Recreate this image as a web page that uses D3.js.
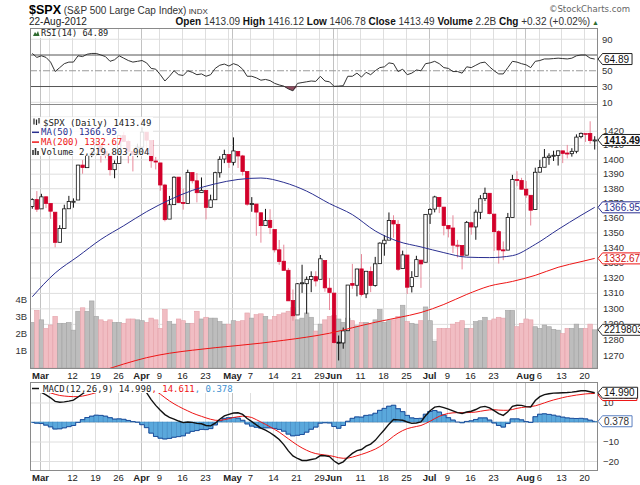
<!DOCTYPE html>
<html>
<head>
<meta charset="utf-8">
<script src="https://cdn.jsdelivr.net/npm/d3@7"></script>
<style>
  body { margin: 0; background: #fff; }
  svg { display: block; }
</style>
</head>
<body>
<script>
// trading days, Feb 28 - Aug 22 2012
var dates = ["02-28","02-29","03-01","03-02","03-05","03-06","03-07","03-08","03-09","03-12",
  "03-13","03-14","03-15","03-16","03-19","03-20","03-21","03-22","03-23","03-26",
  "03-27","03-28","03-29","03-30","04-02","04-03","04-04","04-05","04-09","04-10",
  "04-11","04-12","04-13","04-16","04-17","04-18","04-19","04-20","04-23","04-24",
  "04-25","04-26","04-27","04-30","05-01","05-02","05-03","05-04","05-07","05-08",
  "05-09","05-10","05-11","05-14","05-15","05-16","05-17","05-18","05-21","05-22",
  "05-23","05-24","05-25","05-29","05-30","05-31","06-01","06-04","06-05","06-06",
  "06-07","06-08","06-11","06-12","06-13","06-14","06-15","06-18","06-19","06-20",
  "06-21","06-22","06-25","06-26","06-27","06-28","06-29","07-02","07-03","07-05",
  "07-06","07-09","07-10","07-11","07-12","07-13","07-16","07-17","07-18","07-19",
  "07-20","07-23","07-24","07-25","07-26","07-27","07-30","07-31","08-01","08-02",
  "08-03","08-06","08-07","08-08","08-09","08-10","08-13","08-14","08-15","08-16",
  "08-17","08-20","08-21","08-22"];

var open = [1367.56,1372.20,1365.90,1374.09,1369.59,1363.63,1343.39,1352.65,1365.97,1370.78,
  1371.92,1395.95,1394.17,1402.55,1404.17,1409.59,1405.52,1402.89,1392.78,1397.11,
  1416.55,1412.52,1405.39,1403.31,1408.47,1418.98,1413.09,1398.79,1397.45,1382.18,
  1358.98,1368.77,1387.61,1370.27,1369.57,1390.78,1385.08,1376.96,1378.53,1366.97,
  1372.11,1390.64,1400.19,1403.26,1397.86,1405.50,1402.32,1391.51,1368.79,1369.16,
  1363.20,1354.58,1358.11,1351.93,1338.36,1330.78,1324.82,1305.05,1295.73,1316.09,
  1316.02,1318.72,1320.64,1318.90,1331.25,1313.09,1309.87,1278.29,1277.82,1285.61,
  1316.15,1314.99,1325.72,1309.40,1324.02,1314.88,1329.19,1342.42,1344.83,1358.04,
  1355.43,1325.92,1334.90,1314.09,1320.71,1331.52,1330.12,1362.33,1365.75,1373.72,
  1367.09,1354.66,1352.96,1341.40,1341.29,1334.81,1356.50,1353.68,1363.58,1373.01,
  1376.51,1362.34,1350.52,1338.35,1338.17,1360.05,1385.94,1385.27,1379.32,1375.13,
  1365.45,1391.04,1394.46,1401.23,1402.26,1402.58,1405.87,1404.36,1403.89,1405.57,
  1415.84,1417.85,1418.13,1413.09];

var high = [1373.09,1378.04,1376.17,1374.53,1369.59,1363.63,1354.85,1368.72,1374.76,1373.04,
  1396.13,1399.42,1402.63,1405.88,1414.00,1409.59,1407.75,1402.89,1399.18,1416.58,
  1419.15,1413.65,1405.39,1410.89,1422.38,1419.00,1413.09,1401.60,1397.45,1383.01,
  1374.71,1388.13,1387.61,1379.66,1392.76,1390.78,1390.46,1387.40,1378.53,1375.57,
  1391.37,1402.09,1406.64,1403.26,1415.32,1405.50,1403.07,1391.51,1373.91,1369.16,
  1363.73,1365.88,1365.66,1351.93,1344.94,1341.78,1326.36,1312.24,1316.39,1328.49,
  1320.71,1324.14,1324.20,1334.93,1331.25,1319.74,1309.87,1282.55,1287.62,1315.13,
  1329.05,1325.81,1335.52,1324.31,1327.28,1333.68,1343.32,1348.22,1363.46,1361.57,
  1358.27,1337.82,1334.90,1324.24,1334.40,1331.52,1362.17,1366.35,1374.81,1373.85,
  1367.09,1354.87,1361.54,1345.00,1341.29,1357.70,1357.26,1365.36,1375.26,1380.39,
  1376.51,1362.34,1351.53,1343.98,1363.13,1389.19,1391.74,1387.16,1385.03,1375.13,
  1394.16,1399.63,1407.14,1404.14,1405.95,1405.98,1405.87,1410.03,1407.73,1417.44,
  1418.71,1418.13,1426.68,1416.12];

var low = [1365.97,1363.81,1365.90,1366.42,1359.13,1340.03,1343.39,1352.65,1365.97,1366.69,
  1371.92,1389.97,1394.17,1401.47,1402.43,1397.68,1400.64,1388.73,1386.87,1397.11,
  1411.95,1397.20,1391.56,1401.42,1404.46,1404.62,1394.09,1392.92,1378.24,1357.38,
  1358.98,1368.77,1369.85,1365.38,1369.57,1383.29,1370.30,1376.96,1358.79,1366.82,
  1372.11,1387.28,1397.31,1394.00,1395.73,1393.92,1388.71,1367.96,1363.94,1347.75,
  1343.13,1354.58,1348.89,1336.61,1328.41,1324.79,1304.86,1291.98,1295.73,1310.04,
  1296.53,1310.50,1314.23,1318.90,1310.76,1298.90,1277.25,1266.74,1274.16,1285.61,
  1312.68,1307.77,1307.73,1306.62,1310.51,1314.14,1329.19,1334.46,1344.83,1346.45,
  1324.41,1325.92,1309.27,1310.30,1320.71,1313.29,1330.12,1355.70,1363.53,1363.02,
  1348.03,1346.65,1336.27,1333.25,1325.41,1334.81,1348.51,1345.07,1358.96,1371.21,
  1362.19,1337.56,1329.24,1331.50,1338.17,1360.05,1381.37,1379.17,1373.35,1354.65,
  1365.45,1391.04,1394.46,1396.13,1398.80,1395.62,1397.32,1400.60,1401.83,1404.15,
  1414.67,1412.12,1410.86,1406.78];

var close = [1372.18,1365.68,1374.09,1369.63,1364.33,1343.36,1352.63,1365.91,1370.87,1371.09,
  1395.95,1394.28,1402.60,1404.17,1409.75,1405.52,1402.89,1392.78,1397.11,1416.51,
  1412.52,1405.54,1403.28,1408.47,1419.04,1413.38,1398.96,1398.08,1382.20,1358.59,
  1368.71,1387.57,1370.26,1369.57,1390.78,1385.14,1376.92,1378.53,1366.94,1371.97,
  1390.69,1399.98,1403.36,1397.91,1405.82,1402.31,1391.57,1369.10,1369.58,1363.72,
  1354.58,1357.99,1353.39,1338.35,1330.66,1324.80,1304.86,1295.22,1315.99,1316.63,
  1318.86,1320.68,1317.82,1332.42,1313.32,1310.33,1278.04,1278.18,1285.50,1315.13,
  1314.99,1325.66,1308.93,1324.18,1314.88,1329.10,1342.84,1344.78,1357.98,1355.69,
  1325.51,1335.02,1313.72,1319.99,1331.85,1329.04,1362.16,1365.51,1374.02,1367.58,
  1354.68,1352.46,1341.47,1341.45,1334.76,1356.78,1353.64,1363.67,1372.78,1376.51,
  1362.66,1350.52,1338.31,1337.89,1360.02,1385.97,1385.30,1379.32,1375.32,1365.00,
  1390.99,1394.23,1401.35,1402.22,1402.80,1405.87,1404.11,1403.93,1405.53,1415.51,
  1418.16,1418.13,1413.17,1413.49];

// volume in billions
var volume = [2.65,3.35,2.8,2.3,2.5,3.0,2.6,2.6,2.65,2.2,
  3.3,3.5,3.3,3.9,3.0,2.8,2.7,2.8,2.65,2.65,
  2.6,2.85,2.85,2.8,2.75,2.65,2.9,2.8,2.3,3.4,
  2.7,2.55,2.85,2.75,2.6,2.6,3.3,2.85,2.95,2.9,
  2.9,2.7,2.55,2.55,2.75,2.7,2.75,3.2,2.9,3.1,
  3.15,3.0,2.8,3.0,3.1,3.2,3.3,3.5,2.8,2.9,
  3.2,2.95,2.15,2.55,2.8,3.0,3.05,2.85,2.65,2.9,
  2.75,2.45,2.65,2.65,2.55,2.8,3.4,2.65,2.75,2.8,
  3.0,3.65,2.7,2.6,2.55,2.75,3.55,2.75,1.55,2.3,
  2.3,2.3,2.55,2.65,2.75,2.3,2.3,2.7,2.75,2.95,
  2.75,2.85,2.95,2.9,3.35,3.35,2.4,2.6,2.85,2.8,
  2.4,2.3,2.5,2.4,2.25,2.2,2.0,2.3,2.3,2.55,
  2.3,2.3,2.55,2.2198];
var lastVolume = 2219803904;

// moving averages, read every fifth day
var maIdx = [0,5,10,15,20,25,30,35,40,45,50,55,60,65,70,75,80,85,90,95,100,105,110,115,120,123];
var ma50 = [1307.5,1323,1334,1345.3,1354.5,1364,1372,1378.5,1383,1386,1387,1384,1378,1369.5,
  1362,1351,1344,1340.3,1336.5,1333.5,1333.2,1334.5,1342,1352,1361.5,1366.95];
var ma200 = [1250,1253,1256,1260,1264.5,1268.5,1271.3,1273.2,1274.8,1276.2,1277.7,1279.5,1281.5,1284,
  1287.5,1291,1294,1297.3,1302.5,1309,1314.5,1317.5,1321.5,1326.8,1330.5,1332.67];

var rsi = [72,67,69,67,61,49,54,59,61,61,
  69,68,71,72,72,70,68,62,64,69,
  66,63,61,62,63,60,53,52,45,37,
  43,50,45,44,50,48,45,46,43,45,
  53,57,58.5,56,59,57,52,43,43,41,
  38,39,37.5,34,32,30.5,27,24.5,34,35,
  36,37,36.5,43,37,36,30.2,30.5,31,43,
  43,47,42,48,45,50,54,55,60,59,
  49,52,45,47,51,50,59,60,62,59,
  54,53,49,49,47,55,54,57,60,61,
  55,50,46,46,54,62,61,59,57.5,54,
  62,63,65,65,65.5,66,65.5,65,66,69,
  70,70,66,64.89];

var macd = [16.3,15.8,15.2,13.9,12.4,10.6,10.1,10.3,10.7,11.2,
  12.8,14.5,16.1,17.4,18.6,19.2,19.4,19.0,18.5,18.9,
  19.0,18.6,18.1,17.8,16.5,15.0,11.5,8.5,6.0,3.8,
  2.4,1.5,0.5,-0.3,0.0,-0.2,-0.7,-0.9,-1.8,-2.0,
  -0.6,1.4,3.1,3.9,4.6,4.7,3.9,1.8,0.2,-1.5,
  -3.1,-4.2,-5.5,-7.1,-9.0,-11.6,-14.8,-17.4,-18.7,-19.7,
  -19.7,-19.2,-18.8,-17.2,-17.3,-17.7,-20.0,-21.5,-20.4,-18.1,
  -16.1,-14.7,-14.1,-12.4,-11.3,-9.4,-6.6,-4.0,-1.1,1.3,
  1.1,0.9,0.0,-0.7,-0.5,0.1,3.2,5.8,7.6,8.0,
  7.4,6.6,5.7,4.8,4.4,5.1,5.5,6.4,7.6,8.0,
  7.2,5.8,4.3,3.4,5.2,8.0,8.6,8.5,7.9,7.7,
  11.0,13.0,14.0,14.5,14.8,14.9,15.0,15.1,15.3,15.6,
  16.0,16.0,15.5,14.99];

var signal = [16.6,16.4,16.0,15.5,14.9,14.2,13.6,13.3,13.1,13.0,
  13.0,13.3,13.8,14.4,15.1,15.8,16.4,16.8,17.0,17.3,
  17.6,17.8,17.9,17.9,17.9,17.9,17.2,15.9,14.3,12.5,
  10.8,9.3,8.0,6.8,5.7,4.6,3.7,2.9,2.1,1.4,
  0.9,0.8,1.2,1.7,2.3,2.7,3.0,2.8,2.3,1.2,
  0.0,-1.2,-2.5,-3.8,-5.2,-6.9,-8.6,-10.3,-11.9,-13.3,
  -14.5,-15.5,-16.2,-16.6,-16.9,-17.2,-17.7,-18.3,-18.6,-18.5,
  -18.0,-17.3,-16.6,-15.8,-14.9,-13.9,-12.6,-11.0,-9.2,-7.3,
  -5.7,-4.4,-3.4,-2.8,-2.3,-1.8,-0.8,0.4,1.7,2.9,
  3.8,4.4,4.7,4.8,4.8,4.8,4.9,5.1,5.5,5.9,
  6.2,6.3,6.1,6.0,6.0,6.4,7.0,7.4,7.7,7.9,
  8.3,9.0,9.8,10.6,11.3,11.9,12.5,13.0,13.4,13.8,
  14.1,14.4,14.55,14.611];

var hist = [-0.3,-0.6,-0.8,-1.6,-2.5,-3.6,-3.5,-3.0,-2.4,-1.8,
  -0.2,1.2,2.3,3.0,3.5,3.4,3.0,2.2,1.5,1.6,
  1.4,0.8,0.2,-0.1,-1.4,-2.9,-5.7,-7.4,-8.3,-8.7,
  -8.4,-7.8,-7.5,-7.1,-5.7,-4.8,-4.4,-3.8,-3.9,-3.4,
  -1.5,0.6,1.9,2.2,2.3,2.0,0.9,-1.0,-2.1,-2.7,
  -3.1,-3.0,-3.0,-3.3,-3.8,-4.7,-6.2,-7.1,-6.8,-6.4,
  -5.2,-3.7,-2.6,-0.6,-0.4,-0.5,-2.3,-3.2,-1.8,0.4,
  1.9,2.6,2.5,3.4,3.6,4.5,6.0,7.0,8.1,8.6,
  6.8,5.3,3.4,2.1,1.8,1.9,4.0,5.4,5.9,5.1,
  3.6,2.2,1.0,0.0,-0.4,0.3,0.6,1.3,2.1,2.1,
  1.0,-0.5,-1.8,-2.6,-0.8,1.6,1.6,1.1,0.2,-0.2,
  2.7,4.0,4.2,3.9,3.5,3.0,2.5,2.1,1.9,1.8,
  1.9,1.6,0.95,0.378];

var priceTicks = [1270,1280,1290,1300,1310,1320,1330,1340,1350,1360,1370,1380,1390,1400,1410,1420,1430];
var rsiTicks = [10,30,50,70,90];
var macdTicks = [-20,-10,0,10];
var volTicks = [1,2,3,4];
var quoteLabels = ["Open","High","Low","Close","Volume","Chg"];
var quoteValues = ["1413.09","1416.12","1406.78","1413.49","2.2B","+0.32 (+0.02%)"];

var width = 640, height = 485;
var left = 30, right = 597;
var rsiTop = 28, rsiBottom = 104, mainTop = 104, mainBottom = 368, macdTop = 382, macdBottom = 470;
var mono = "'DejaVu Sans Mono', monospace";
var red = "#d2002a";

var svg = d3.select("body").append("svg")
    .attr("width", width)
    .attr("height", height)
    .style("font-family", "'Liberation Sans', Arial, sans-serif");

var parseDay = d3.timeParse("%Y-%m-%d");
var days = dates.map(d => parseDay("2012-" + d));

var x = d3.scaleBand().domain(d3.range(days.length)).range([left, right]);
var step = x.step();
var cx = i => x(i) + step / 2;

var y = d3.scaleLog().domain([1262, 1439]).range([mainBottom, mainTop]);
var yVol = d3.scaleLinear().domain([0, 15.35]).range([mainBottom, mainTop]);
var yRsi = d3.scaleLinear().domain([7.8, 104.3]).range([rsiBottom, rsiTop]);
var yMacd = d3.scaleLinear().domain([-24.6, 20.5]).range([macdBottom, macdTop]);

var defs = svg.append("defs");
[["clipRsi", rsiTop, rsiBottom], ["clipMain", mainTop, mainBottom], ["clipMacd", macdTop, macdBottom]].forEach(c => {
    defs.append("clipPath").attr("id", c[0]).append("rect")
        .attr("x", left).attr("y", c[1]).attr("width", right - left).attr("height", c[2] - c[1]);
});

// week and month boundaries
var monthStarts = [], weekStarts = [];
days.forEach((d, i) => {
    if (i === 0) return;
    var p = days[i - 1];
    if (d.getMonth() !== p.getMonth()) monthStarts.push(i);
    if (d.getDay() <= p.getDay()) weekStarts.push(i);
});
var gridDays = Array.from(new Set(weekStarts.concat(monthStarts))).sort((a, b) => a - b);
var gx = i => Math.round(x(i) + 1) + 0.5;

[[rsiTop, rsiBottom], [mainTop, mainBottom], [macdTop, macdBottom]].forEach(p => {
    svg.append("g").selectAll("line")
        .data(gridDays)
        .enter().append("line")
        .attr("x1", gx).attr("x2", gx)
        .attr("y1", p[0]).attr("y2", p[1])
        .attr("stroke", i => monthStarts.includes(i) ? "#c2c2c2" : "#dedede");
});

// price axis + horizontal grid
var priceAxis = svg.append("g")
    .attr("transform", "translate(" + right + ",0)")
    .call(d3.axisRight(y).tickValues(priceTicks).tickFormat(d => d < 1430 ? d : "")
        .tickSizeInner(-(right - left)).tickSizeOuter(0).tickPadding(6));
priceAxis.attr("font-family", null).attr("font-size", 9.5);
priceAxis.select(".domain").remove();
priceAxis.selectAll("line").attr("stroke", "#dedede");
priceAxis.selectAll("text").attr("fill", "#333");

// RSI lines and labels
svg.append("g").selectAll("line")
    .data(rsiTicks)
    .enter().append("line")
    .attr("x1", left).attr("x2", right)
    .attr("y1", d => yRsi(d)).attr("y2", d => yRsi(d))
    .attr("stroke", d => (d === 70 || d === 30) ? "#555" : d === 50 ? "#9a9a9a" : "#dedede")
    .attr("stroke-dasharray", d => d === 50 ? "7,2,2,2" : null);
var rsiAxis = svg.append("g")
    .attr("transform", "translate(" + right + ",0)")
    .call(d3.axisRight(yRsi).tickValues(rsiTicks).tickSize(0).tickPadding(5));
rsiAxis.attr("font-family", null).attr("font-size", 9.5);
rsiAxis.select(".domain").remove();
rsiAxis.selectAll("text").attr("fill", "#333");

// MACD grid and labels
var macdAxis = svg.append("g")
    .attr("transform", "translate(" + right + ",0)")
    .call(d3.axisRight(yMacd).tickValues(macdTicks)
        .tickSizeInner(-(right - left)).tickSizeOuter(0).tickPadding(6));
macdAxis.attr("font-family", null).attr("font-size", 9.5);
macdAxis.select(".domain").remove();
macdAxis.selectAll("line").attr("stroke", "#dedede");
macdAxis.selectAll("text").attr("fill", "#333");

// volume labels
var volAxis = svg.append("g")
    .attr("transform", "translate(" + left + ",0)")
    .call(d3.axisLeft(yVol).tickValues(volTicks).tickFormat(d => d + "B").tickSize(0).tickPadding(3));
volAxis.attr("font-family", null).attr("font-size", 9.5);
volAxis.select(".domain").remove();
volAxis.selectAll("text").attr("fill", "#333");

// volume bars
var up = close.map((c, i) => i === 0 ? c >= open[0] : c >= close[i - 1]);
svg.append("g").attr("clip-path", "url(#clipMain)")
    .selectAll("rect")
    .data(volume)
    .enter().append("rect")
    .attr("x", (d, i) => x(i))
    .attr("width", step)
    .attr("y", d => yVol(d))
    .attr("height", d => mainBottom - yVol(d))
    .attr("fill", (d, i) => up[i] ? "#bdbdbd" : "#f1bdc3")
    .attr("stroke", (d, i) => up[i] ? "#a3a3a3" : "#e4a2aa")
    .attr("stroke-width", 0.6);

// candles
var candles = svg.append("g").attr("clip-path", "url(#clipMain)");
candles.selectAll("line")
    .data(close)
    .enter().append("line")
    .attr("x1", (d, i) => cx(i)).attr("x2", (d, i) => cx(i))
    .attr("y1", (d, i) => y(high[i])).attr("y2", (d, i) => y(low[i]))
    .attr("stroke", (d, i) => up[i] ? "#111" : "#e8899a")
    .attr("stroke-width", 1);
candles.selectAll("rect")
    .data(close)
    .enter().append("rect")
    .attr("x", (d, i) => cx(i) - 1.7)
    .attr("width", 3.4)
    .attr("y", (d, i) => y(Math.max(open[i], d)))
    .attr("height", (d, i) => Math.max(1, Math.abs(y(open[i]) - y(d))))
    .attr("fill", (d, i) => d < open[i] ? (up[i] ? "#111" : red) : "#fff")
    .attr("stroke", (d, i) => up[i] ? "#111" : red)
    .attr("stroke-width", 0.8);

// moving averages
var maLine = d3.line()
    .x((d, k) => cx(maIdx[k]))
    .y(d => y(d))
    .curve(d3.curveMonotoneX);
var maG = svg.append("g").attr("clip-path", "url(#clipMain)");
maG.append("path").datum(ma200).attr("fill", "none").attr("stroke", "#ee1515").attr("stroke-width", 1).attr("d", maLine);
maG.append("path").datum(ma50).attr("fill", "none").attr("stroke", "#2a2f90").attr("stroke-width", 1).attr("d", maLine);

// RSI
var rsiG = svg.append("g").attr("clip-path", "url(#clipRsi)");
rsiG.append("path").datum(rsi)
    .attr("fill", "#8e4a5e")
    .attr("d", d3.area().x((d, i) => cx(i)).y0(yRsi(30)).y1(d => yRsi(Math.min(d, 30))));
rsiG.append("path").datum(rsi)
    .attr("fill", "none").attr("stroke", "#333").attr("stroke-width", 1)
    .attr("d", d3.line().x((d, i) => cx(i)).y(d => yRsi(d)));

// MACD
var macdG = svg.append("g").attr("clip-path", "url(#clipMacd)");
macdG.selectAll("rect")
    .data(hist)
    .enter().append("rect")
    .attr("x", (d, i) => x(i))
    .attr("width", step)
    .attr("y", d => Math.min(yMacd(d), yMacd(0)))
    .attr("height", d => Math.abs(yMacd(d) - yMacd(0)))
    .attr("fill", "#5aa8dc")
    .attr("stroke", "#3a82bd")
    .attr("stroke-width", 0.5);
macdG.append("path").datum(hist)
    .attr("fill", "none").attr("stroke", "#1f4f9c").attr("stroke-width", 1)
    .attr("d", d3.line().x((d, i) => cx(i)).y(d => yMacd(d)).curve(d3.curveStep));
macdG.append("path").datum(signal)
    .attr("fill", "none").attr("stroke", "#ee1515").attr("stroke-width", 1)
    .attr("d", d3.line().x((d, i) => cx(i)).y(d => yMacd(d)));
macdG.append("path").datum(macd)
    .attr("fill", "none").attr("stroke", "#111").attr("stroke-width", 1.4)
    .attr("d", d3.line().x((d, i) => cx(i)).y(d => yMacd(d)));

// panel borders
[[rsiTop, rsiBottom], [mainTop, mainBottom], [macdTop, macdBottom]].forEach(p => {
    svg.append("rect")
        .attr("x", left + 0.5).attr("y", p[0] + 0.5)
        .attr("width", right - left).attr("height", p[1] - p[0])
        .attr("fill", "none").attr("stroke", "#8a8a8a");
});

// date labels under price panel and under MACD
var labelDays = monthStarts.slice();
weekStarts.forEach(i => {
    if (!monthStarts.some(m => Math.abs(m - i) < 3)) labelDays.push(i);
});
[379, 481].forEach(yy => {
    svg.append("g").selectAll("text")
        .data(labelDays)
        .enter().append("text")
        .attr("x", i => gx(i))
        .attr("y", yy)
        .attr("text-anchor", "middle")
        .attr("font-size", 9.5)
        .attr("font-weight", i => monthStarts.includes(i) ? "bold" : null)
        .attr("fill", "#222")
        .text(i => monthStarts.includes(i) ? d3.timeFormat("%b")(days[i]) : days[i].getDate());
});

// header
var head = svg.append("text").attr("x", 29).attr("y", 14);
head.append("tspan").attr("font-size", 12.5).attr("font-weight", "bold").text("$SPX");
head.append("tspan").attr("font-size", 10).attr("fill", "#333").text(" (S&P 500 Large Cap Index)");
head.append("tspan").attr("font-size", 8).attr("fill", "#333").text(" INDX");
svg.append("text").attr("x", 630).attr("y", 12).attr("text-anchor", "end")
    .attr("font-family", "'Liberation Sans Narrow', 'DejaVu Sans Condensed', sans-serif")
    .attr("font-size", 9.5).attr("fill", "#666").text("©StockCharts.com");
svg.append("text").attr("x", 29).attr("y", 25).attr("font-size", 10).attr("fill", "#222").text("22-Aug-2012");
var quote = svg.append("text").attr("x", 599).attr("y", 25).attr("text-anchor", "end").attr("font-size", 10);
quoteLabels.forEach((l, k) => {
    quote.append("tspan").attr("font-weight", "bold").attr("fill", "#111").text((k ? " " : "") + l);
    quote.append("tspan").attr("fill", "#333").text(" " + quoteValues[k]);
});
quote.append("tspan").attr("font-size", 7).attr("fill", "#2f6b2f").text(" ▲");

// legends
svg.append("rect").attr("x", 31).attr("y", 29).attr("width", 70).attr("height", 9).attr("fill", "#fff");
svg.append("path").attr("d", "M33,36 L35,32 L36.5,34 L38,31 L39.5,36 Z").attr("fill", "#2f6b2f");
svg.append("text").attr("x", 41).attr("y", 36).attr("font-family", mono).attr("font-size", 8.6)
    .attr("fill", "#222").text("RSI(14) " + rsi[rsi.length - 1]);

svg.append("rect").attr("x", 31).attr("y", 117).attr("width", 122).attr("height", 39).attr("fill", "#fff").attr("opacity", 0.85);
var legendRows = [
    ["$SPX (Daily) " + close[close.length - 1].toFixed(2), "#222"],
    ["MA(50) " + ma50[ma50.length - 1].toFixed(2), "#2a2f90"],
    ["MA(200) " + ma200[ma200.length - 1].toFixed(2), "#ee1515"],
    ["Volume " + d3.format(",")(lastVolume), "#222"]
];
legendRows.forEach((r, k) => {
    var yy = 125.5 + k * 9.8;
    svg.append("text").attr("x", k === 0 ? 43 : 41).attr("y", yy).attr("font-family", mono).attr("font-size", 9)
        .attr("fill", r[1]).text(r[0]);
});
// legend icons
svg.append("path").attr("d", "M34,118.5 V124.5 M36.5,119.5 V125 M39,118 V123.5").attr("stroke", "#222").attr("stroke-width", 1.2);
svg.append("line").attr("x1", 32).attr("x2", 39).attr("y1", 132.3).attr("y2", 132.3).attr("stroke", "#2a2f90").attr("stroke-width", 1.5);
svg.append("line").attr("x1", 32).attr("x2", 39).attr("y1", 142.1).attr("y2", 142.1).attr("stroke", "#ee1515").attr("stroke-width", 1.5);
svg.append("path").attr("d", "M33,155 V150 M35.5,155 V148 M38,155 V151").attr("stroke", "#333").attr("stroke-width", 1.6);

svg.append("rect").attr("x", 31).attr("y", 383).attr("width", 220).attr("height", 10).attr("fill", "#fff");
svg.append("line").attr("x1", 32).attr("x2", 39).attr("y1", 388.5).attr("y2", 388.5).attr("stroke", "#111").attr("stroke-width", 1.5);
var macdLegend = svg.append("text").attr("x", 43).attr("y", 391.5).attr("font-family", mono).attr("font-size", 9);
macdLegend.append("tspan").attr("fill", "#222").text("MACD(12,26,9) " + macd[macd.length - 1].toFixed(3));
macdLegend.append("tspan").attr("fill", "#ee1515").text(", " + signal[signal.length - 1].toFixed(3));
macdLegend.append("tspan").attr("fill", "#3d8fd0").text(", " + hist[hist.length - 1].toFixed(3));

// value callouts on the right
function callout(yv, label, stroke, textColor, bold) {
    var g = svg.append("g").attr("transform", "translate(598," + yv + ")");
    var t = g.append("text").attr("x", 6).attr("y", 3.6).attr("font-size", 10)
        .attr("font-weight", bold ? "bold" : null).attr("fill", textColor).text(label);
    var w = t.node().getComputedTextLength() + 9;
    g.insert("path", "text")
        .attr("d", "M0,0 L4.5,-5.5 H" + w + " V5.5 H4.5 Z")
        .attr("fill", "#fff").attr("stroke", stroke).attr("stroke-width", 1);
}
callout(yRsi(rsi[rsi.length - 1]), rsi[rsi.length - 1].toFixed(2), "#222", "#111", false);
callout(y(close[close.length - 1]), close[close.length - 1].toFixed(2), "#222", "#111", true);
callout(y(ma50[ma50.length - 1]), ma50[ma50.length - 1].toFixed(2), "#2a2f90", "#2a2f90", false);
callout(y(ma200[ma200.length - 1]), ma200[ma200.length - 1].toFixed(2), "#ee1515", "#d01010", false);
callout(yVol(volume[volume.length - 1]), String(lastVolume), "#333", "#111", false);
callout(yMacd(signal[signal.length - 1]) + 1.5, signal[signal.length - 1].toFixed(3), "#ee1515", "#d01010", false);
callout(yMacd(macd[macd.length - 1]), macd[macd.length - 1].toFixed(3), "#222", "#111", false);
callout(yMacd(hist[hist.length - 1]), hist[hist.length - 1].toFixed(3), "#5a7fc0", "#333", false);
</script>
</body>
</html>
